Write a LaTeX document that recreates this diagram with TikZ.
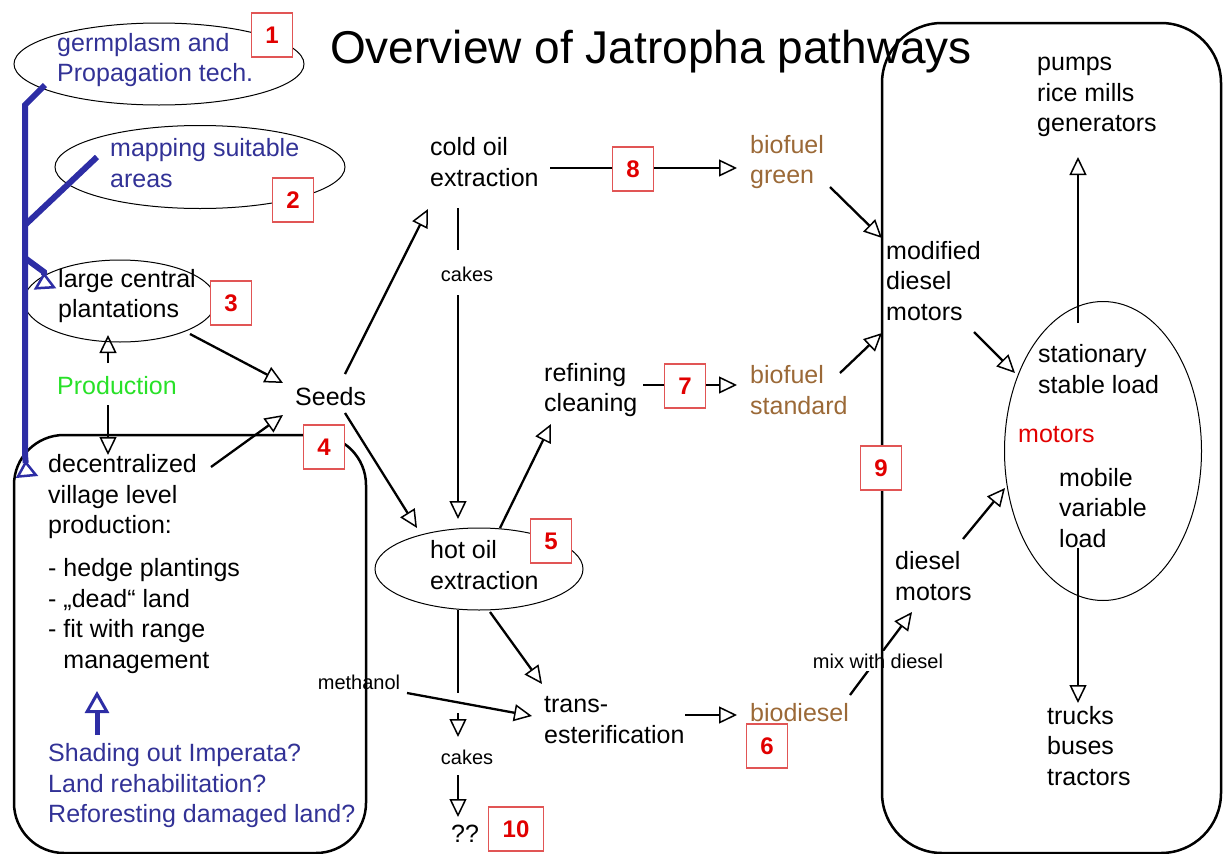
\documentclass[tikz,border=0pt]{standalone}
\usepackage{fontspec}
\setmainfont{Liberation Sans}
\usetikzlibrary{arrows.meta,shapes.geometric}
\definecolor{tblue}{RGB}{50,50,150}
\definecolor{lblue}{RGB}{45,45,165}
\definecolor{brownc}{RGB}{155,105,55}
\definecolor{rnum}{RGB}{225,0,0}
\definecolor{rbox}{RGB}{225,85,85}
\definecolor{greenc}{RGB}{40,225,40}
\begin{document}
\begin{tikzpicture}[x=1pt,y=-1pt,
  txt/.style={font=\fontsize{25}{30.5}\selectfont, align=left, anchor=west, inner sep=0pt},
  small/.style={font=\fontsize{20}{24}\selectfont, inner sep=1pt},
  num/.style={draw=rbox, line width=1.2pt, text=rnum, font=\fontsize{24}{24}\selectfont\bfseries, minimum width=41pt, minimum height=44pt, inner sep=0pt, fill=white},
  arr/.style={line width=2.3pt, -{Triangle[open, length=18pt, width=17pt, line width=1.5pt]}},
  plain/.style={line width=2.3pt},
  ell/.style={draw, ellipse, line width=1pt, inner sep=0pt},
  bigbox/.style={draw, line width=2.5pt},
  bluel/.style={draw=lblue, line width=6pt},
  btip/.style={-{Triangle[open,reversed,length=17pt,width=22pt,line width=2.5pt]}}
]
\useasboundingbox (0,0) rectangle (1224,854);

% ellipses
\node[ell, minimum width=290pt, minimum height=82pt] (e1) at (159,64) {};
\node[ell, minimum width=290pt, minimum height=83pt] (e2) at (200,167) {};
\node[ell, minimum width=192pt, minimum height=82pt] (e3) at (120,301) {};
\node[ell, minimum width=208pt, minimum height=82pt] (e5) at (479,569) {};
\node[ell, minimum width=197pt, minimum height=299pt] (em) at (1103,451) {};

% title
\node[font=\fontsize{46}{50}\selectfont, anchor=base west, inner sep=0pt] (title) at (330,63) {Overview of Jatropha pathways};

% texts
\node[txt, text=tblue] (germ) at (57,60) {germplasm and\\Propagation tech.};
\node[txt, text=tblue] (map) at (110,163) {mapping suitable\\areas};
\node[txt] (large) at (58,296) {large central\\plantations};
\node[txt, text=greenc, anchor=center] (prod) at (117,386) {Production};
\node[txt] (seeds) at (295,397) {Seeds};
\node[txt] (decent) at (48,497) {decentralized\\village level\\production:};
\node[txt] (bullets) at (48,616) {- hedge plantings\\- „dead“ land\\- fit with range\\\hphantom{- }management};
\node[txt, text=tblue] (quest) at (48,786) {Shading out Imperata?\\Land rehabilitation?\\Reforesting damaged land?};
\node[txt] (cold) at (430,162) {cold oil\\extraction};
\node[txt, text=brownc] (bgreen) at (750,162) {biofuel\\green};
\node[txt] (refin) at (544,390) {refining\\cleaning};
\node[txt, text=brownc] (bstd) at (750,390) {biofuel\\standard};
\node[txt] (hot) at (430,565) {hot oil\\extraction};
\node[txt] (trans) at (544,720) {trans-\\esterification};
\node[txt, text=brownc] (biod) at (750,713) {biodiesel};
\node[small] (cakes1) at (467,274) {cakes};
\node[small] (cakes2) at (467,757) {cakes};
\node[txt, anchor=center] (qq) at (465,834) {??};
\node[txt] (modif) at (886,281) {modified\\diesel\\motors};
\node[txt] (diesel) at (895,576) {diesel\\motors};
\node[txt] (stat) at (1038,369) {stationary\\stable load};
\node[txt, text=rnum] (motors) at (1018,435) {motors};
\node[txt] (mobile) at (1059,508) {mobile\\variable\\load};
\node[txt] (pumps) at (1037,97) {pumps\\rice mills\\generators};
\node[txt] (trucks) at (1047,746) {trucks\\buses\\tractors};

% connector end points
\coordinate (e3-o) at (190,334);
\coordinate (seeds-i1) at (283,383);
\coordinate (decent-o) at (211,467);
\coordinate (seeds-i2) at (283,415);
\coordinate (prod-o1) at (108,363);
\coordinate (e3-i) at (108,335);
\coordinate (prod-o2) at (108,405);
\coordinate (decent-i) at (108,455);
\coordinate (seeds-o1) at (345,374);
\coordinate (cold-i) at (428,209);
\coordinate (seeds-o2) at (345,413);
\coordinate (e5-i1) at (417,528);
\coordinate (cold-o) at (550,168);
\coordinate (bgreen-i) at (737,168);
\coordinate (refin-o) at (643,385);
\coordinate (bstd-i) at (737,385);
\coordinate (cold-o2) at (458,208);
\coordinate (cakes1-i) at (458,250);
\coordinate (cakes1-o) at (458,295);
\coordinate (e5-i2) at (458,519);
\coordinate (e5-o1) at (500,528);
\coordinate (refin-i) at (551,424);
\coordinate (e5-o2) at (458,610);
\coordinate (e5-m) at (458,693);
\coordinate (cakes2-a) at (458,713);
\coordinate (cakes2-i) at (458,737);
\coordinate (cakes2-o) at (458,775);
\coordinate (qq-i) at (458,817);
\coordinate (e5-o3) at (490,612);
\coordinate (trans-i1) at (542,684);
\coordinate (meth-o) at (407,693);
\coordinate (trans-i2) at (532,716);
\coordinate (trans-o) at (685,715);
\coordinate (biod-i) at (737,715);
\coordinate (biod-o) at (850,695);
\coordinate (diesel-i) at (912,612);
\coordinate (bgreen-o) at (830,187);
\coordinate (modif-i1) at (882,238);
\coordinate (bstd-o) at (840,373);
\coordinate (modif-i2) at (882,333);
\coordinate (modif-o) at (974,332);
\coordinate (em-i1) at (1015,373);
\coordinate (diesel-o) at (963,539);
\coordinate (em-i2) at (1005,488);
\coordinate (em-o1) at (1078,323);
\coordinate (pumps-i) at (1078,157);
\coordinate (em-o2) at (1078,548);
\coordinate (trucks-i) at (1078,703);

% arrows
\draw[arr] (e3-o) -- (seeds-i1);
\draw[arr] (decent-o) -- (seeds-i2);
\draw[arr] (prod-o1) -- (e3-i);
\draw[arr] (prod-o2) -- (decent-i);
\draw[arr] (seeds-o1) -- (cold-i);
\draw[arr] (seeds-o2) -- (e5-i1);
\draw[arr] (cold-o) -- (bgreen-i);
\draw[arr] (refin-o) -- (bstd-i);
\draw[plain] (cold-o2) -- (cakes1-i);
\draw[arr] (cakes1-o) -- (e5-i2);
\draw[arr] (e5-o1) -- (refin-i);
\draw[plain] (e5-o2) -- (e5-m);
\draw[arr] (cakes2-a) -- (cakes2-i);
\draw[arr] (cakes2-o) -- (qq-i);
\draw[arr] (e5-o3) -- (trans-i1);
\draw[arr] (meth-o) -- (trans-i2);
\draw[arr] (trans-o) -- (biod-i);
\draw[arr] (biod-o) -- (diesel-i);
\draw[arr] (bgreen-o) -- (modif-i1);
\draw[arr] (bstd-o) -- (modif-i2);
\draw[arr] (modif-o) -- (em-i1);
\draw[arr] (diesel-o) -- (em-i2);
\draw[arr] (em-o1) -- (pumps-i);
\draw[arr] (em-o2) -- (trucks-i);

% labels with white background
\node[small, fill=white, inner sep=3pt] (mix) at (878,661) {mix with diesel};
\node[small] (meth) at (359,682) {methanol};

% big rounded boxes
\draw[bigbox, rounded corners=50pt] (14,435) rectangle (366,853);
\draw[bigbox, rounded corners=60pt] (882,23) rectangle (1221,853);

% blue lines
\coordinate (germ-o) at (45,85);
\coordinate (bend) at (25,105);
\coordinate (decent-b) at (27,477);
\coordinate (map-o) at (97,157);
\coordinate (trunk2) at (25,225);
\coordinate (trunk3) at (25,258);
\coordinate (large-b) at (44,272);
\coordinate (large-c) at (45,289);
\draw[bluel, btip] (germ-o) -- (bend) -- (25,455) -- (decent-b);
\draw[bluel] (map-o) -- (trunk2);
\draw[bluel, btip] (trunk3) -- (large-b) -- (large-c);
\coordinate (quest-o) at (97,735);
\coordinate (bullets-i) at (97,691);
\draw[draw=lblue, line width=5pt, -{Triangle[open,length=22pt,width=24pt,line width=3pt]}] (quest-o) -- (bullets-i);

% number boxes
\node[num] (n1) at (272,35) {1};
\node[num] (n2) at (293,200) {2};
\node[num] (n3) at (231,303) {3};
\node[num] (n4) at (324,447) {4};
\node[num] (n5) at (551,541) {5};
\node[num, fill=none] (n6) at (767,746) {6};
\node[num] (n7) at (685,386) {7};
\node[num] (n8) at (633,169) {8};
\node[num] (n9) at (881,468) {9};
\node[num, minimum width=55pt] (n10) at (516,829) {10};
\end{tikzpicture}
\end{document}
